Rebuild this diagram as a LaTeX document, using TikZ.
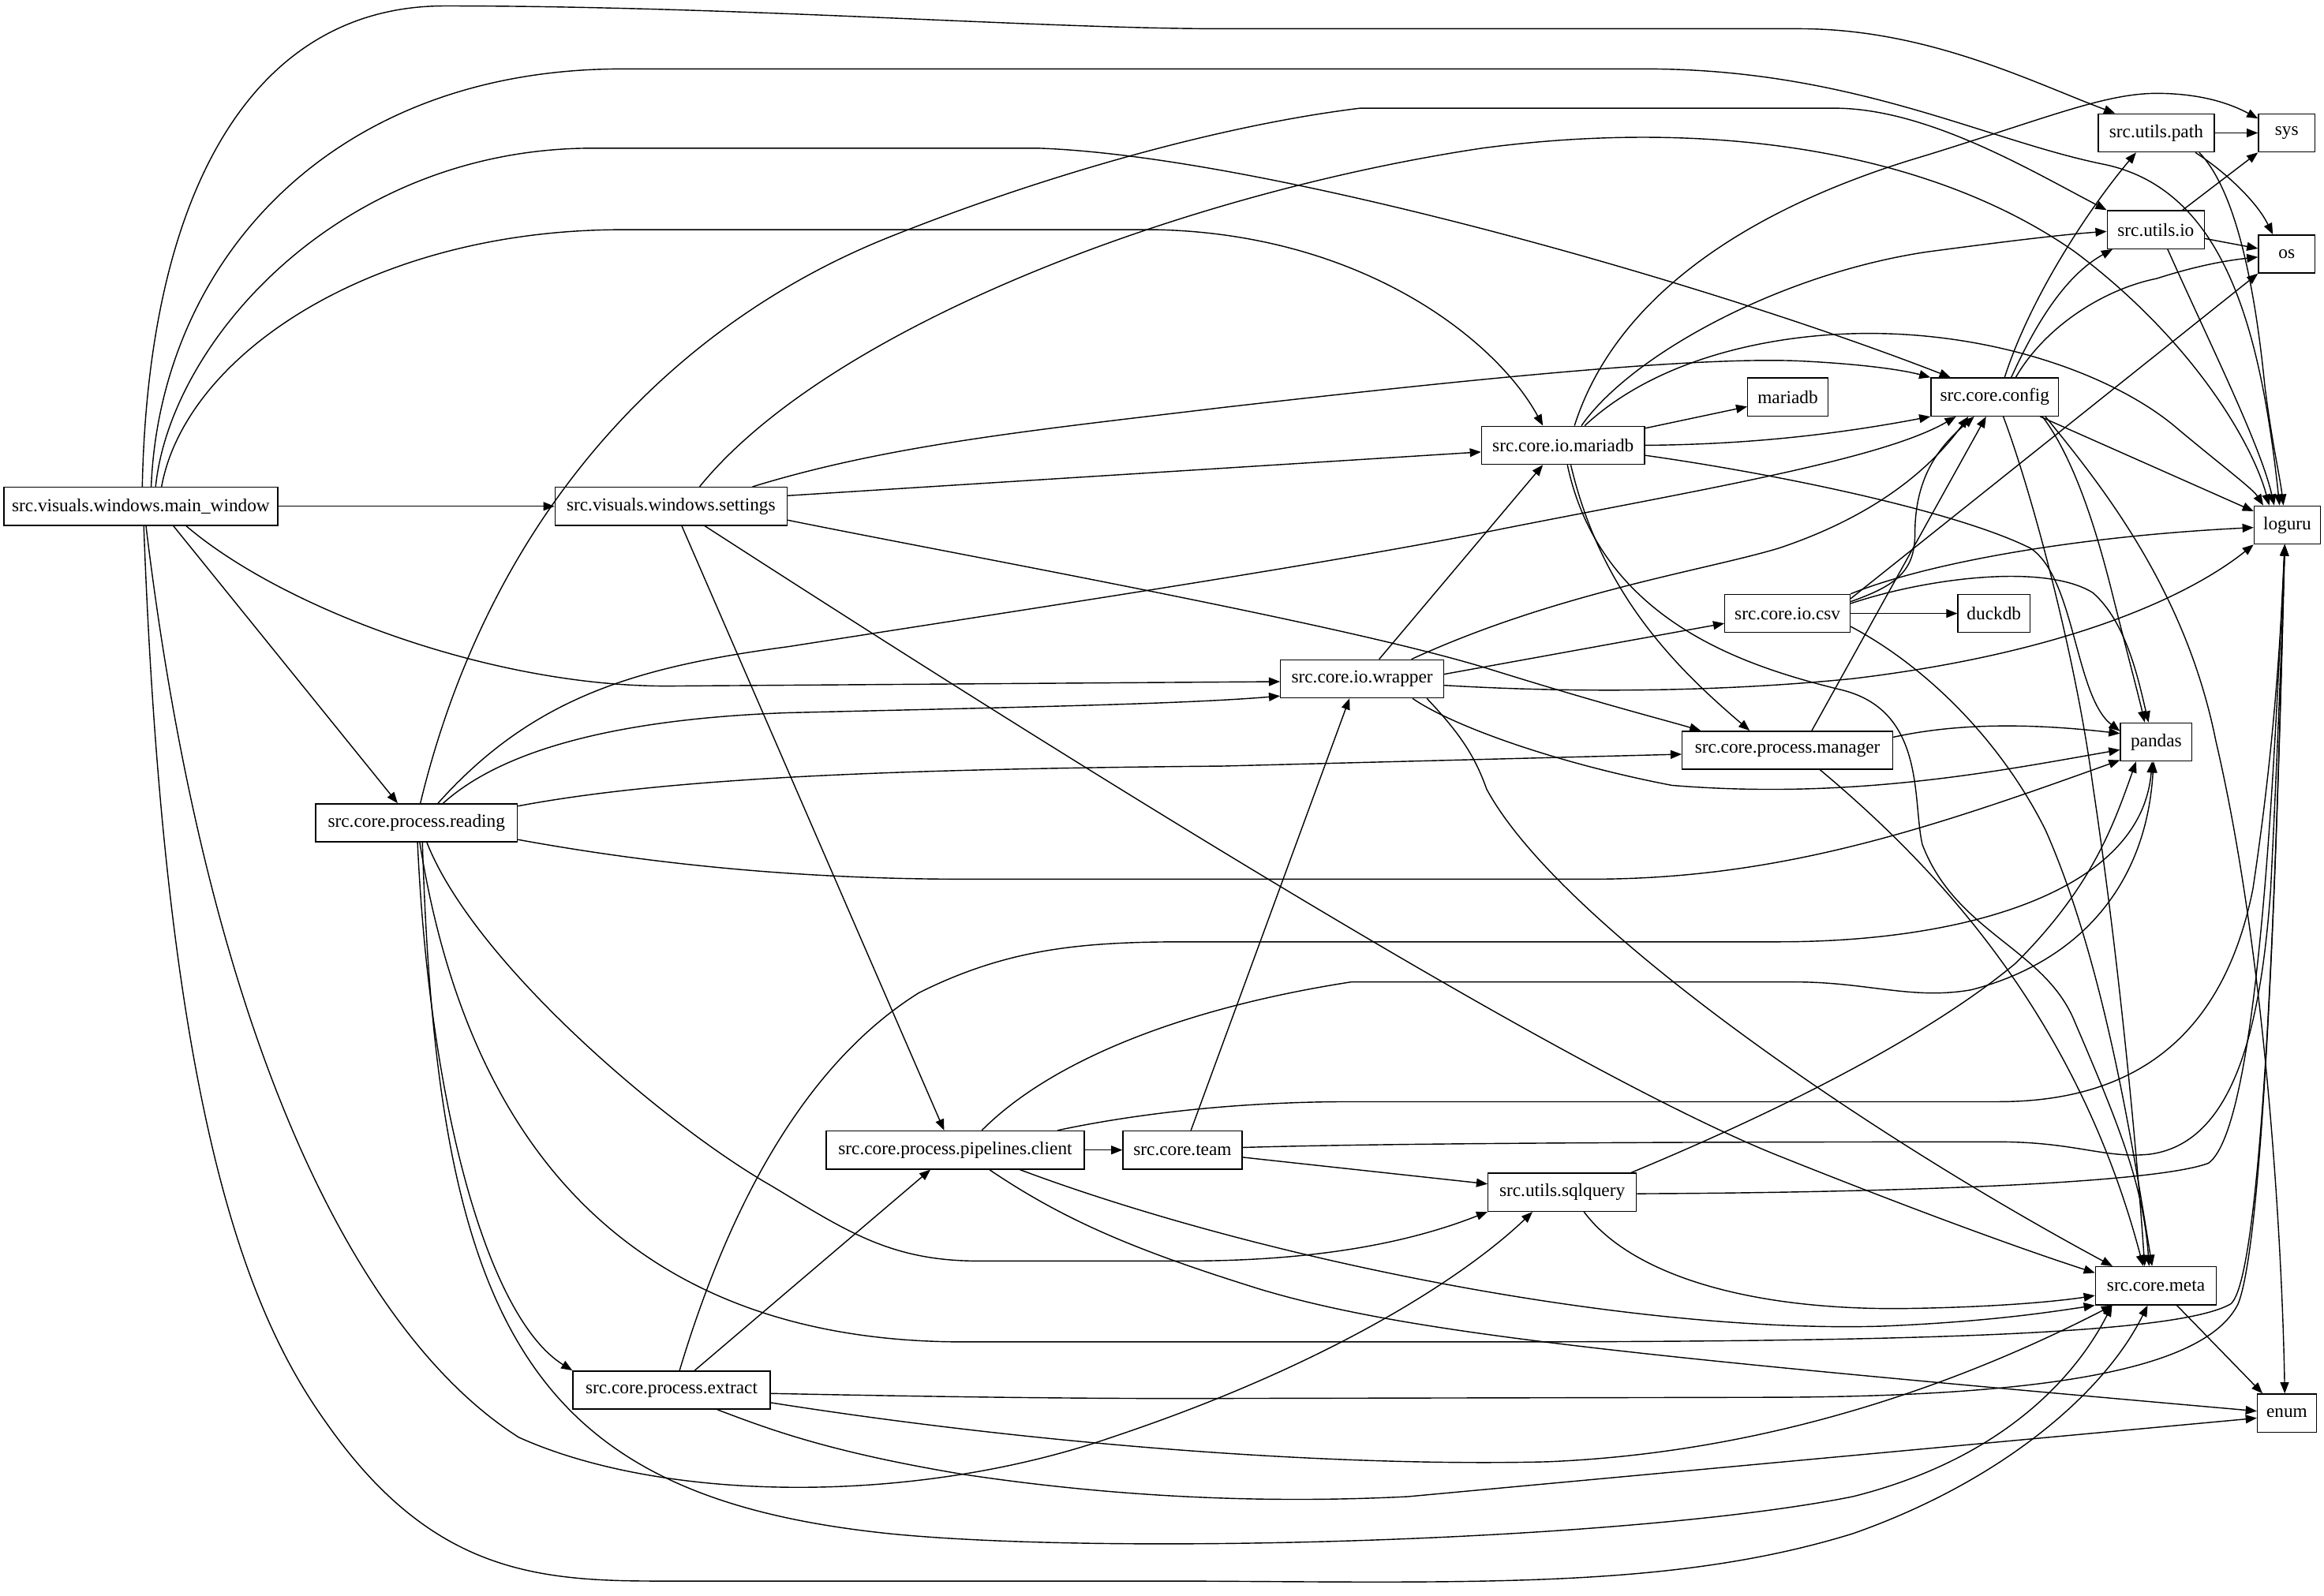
\documentclass[tikz,border=0pt]{standalone}
\usepackage{fontspec}
\newfontfamily\gvfont{Liberation Serif}
\usetikzlibrary{arrows.meta}
\begin{document}
\begin{tikzpicture}[x=1pt,y=-1pt,
  box/.style={draw, line width=0.75pt, inner sep=0pt, minimum height=25.7pt, font=\gvfont\fontsize{12.4pt}{14pt}\selectfont},
  dep/.style={line width=0.75pt, -{Triangle[length=7.5pt,width=5.8pt]}}]
\fill[white] (0,0) rectangle (1568,1077);
\useasboundingbox (0,0) rectangle (1568,1077);
% nodes
\node[box, minimum width=184.7pt] (MW) at (95,341.7) {src.visuals.windows.main\_window};
\node[box, minimum width=156.5pt] (ST) at (452.75,341.7) {src.visuals.windows.settings};
\node[box, minimum width=136pt] (RD) at (281,555.3) {src.core.process.reading};
\node[box, minimum width=133.1pt] (EX) at (453.1,938.1) {src.core.process.extract};
\node[box, minimum width=174.1pt] (PC) at (644.5,776.1) {src.core.process.pipelines.client};
\node[box, minimum width=80.3pt] (TM) at (797.8,776.1) {src.core.team};
\node[box, minimum width=100pt] (SQ) at (1054,804.6) {src.utils.sqlquery};
\node[box, minimum width=110pt] (WR) at (919,458.1) {src.core.io.wrapper};
\node[box, minimum width=84.5pt] (CS) at (1206,414) {src.core.io.csv};
\node[box, minimum width=48.6pt] (DK) at (1345.3,414) {duckdb};
\node[box, minimum width=142pt] (MG) at (1206,506.3) {src.core.process.manager};
\node[box, minimum width=110pt] (MD) at (1054.6,300.5) {src.core.io.mariadb};
\node[box, minimum width=54pt] (MA) at (1206.2,267.9) {mariadb};
\node[box, minimum width=86pt] (CF) at (1345.8,267.9) {src.core.config};
\node[box, minimum width=78.4pt] (PA) at (1454.8,89.7) {src.utils.path};
\node[box, minimum width=38pt] (SY) at (1542.8,89.7) {sys};
\node[box, minimum width=65.6pt] (IO) at (1454.5,155) {src.utils.io};
\node[box, minimum width=38pt] (OS) at (1542.8,171.4) {os};
\node[box, minimum width=44.7pt] (LG) at (1543.2,354.3) {loguru};
\node[box, minimum width=48.3pt] (PD) at (1454.8,500.7) {pandas};
\node[box, minimum width=81.6pt] (MT) at (1454.6,867.7) {src.core.meta};
\node[box, minimum width=39.8pt] (EN) at (1542.9,953.6) {enum};
% main_window
\draw[dep] (MW.east) -- (ST.west);
\draw[dep] (117,0 |- MW.south) -- (268.3,0 |- RD.north);
\draw[dep] (125.6,0 |- MW.south) .. controls (190,410) and (330,463) .. (450,463) -- (WR.west |- 0,460);
\draw[dep] (96,0 |- MW.north) .. controls (100,130) and (170,4) .. (300,4) .. controls (500,4) and (700,19.4) .. (825,19.4) -- (1214,19.4) .. controls (1300,19.4) and (1370,55) .. (1427,0 |- PA.north);
\draw[dep] (102,0 |- MW.north) .. controls (108,180) and (220,46.5) .. (420,46.5) -- (1110,46.5) .. controls (1250,46.5) and (1340,95) .. (1420,111) .. controls (1500,128) and (1525,220) .. (1538,0 |- LG.north);
\draw[dep] (105,0 |- MW.north) .. controls (115,230) and (230,100) .. (400,100) -- (700,100) .. controls (850,105) and (1150,190) .. (1316,0 |- CF.north);
\draw[dep] (109,0 |- MW.north) .. controls (125,240) and (250,155) .. (420,155) -- (780,155) .. controls (920,158) and (1010,230) .. (1041,0 |- MD.north);
\draw[dep] (97,0 |- MW.south) .. controls (112,760) and (170,890) .. (220,960) .. controls (290,1060) and (360,1067) .. (443,1067) -- (800,1067) .. controls (1000,1068) and (1130,1072) .. (1250,1035) .. controls (1350,1000) and (1420,940) .. (1449,0 |- MT.south);
\draw[dep] (98.5,0 |- MW.south) .. controls (140,700) and (240,900) .. (350,970) .. controls (450,1015) and (620,1015) .. (750,970) .. controls (900,920) and (990,860) .. (1034,0 |- SQ.south);
% settings
\draw[dep] (472,0 |- ST.north) .. controls (560,220) and (800,130) .. (1000,100) .. controls (1150,80) and (1300,100) .. (1400,170) .. controls (1480,230) and (1520,300) .. (1531,0 |- LG.north);
\draw[dep] (507.7,0 |- ST.north) .. controls (600,300) and (700,290) .. (825,275) .. controls (1000,255) and (1150,240) .. (1218,243.8) .. controls (1260,246) and (1285,250) .. (CF.north west);
\draw[dep] (ST.east |- 0,334.5) -- (MD.west |- 0,305);
\draw[dep] (ST.east |- 0,351) .. controls (650,375) and (900,420) .. (1000,450) .. controls (1080,475) and (1120,485) .. (1147.5,0 |- MG.north);
\draw[dep] (460,0 |- ST.south) -- (637,0 |- PC.north);
\draw[dep] (475.5,0 |- ST.south) .. controls (700,500) and (1050,720) .. (1200,780) .. controls (1300,820) and (1370,845) .. (MT.west |- 0,859);
% reading
\draw[dep] (283.6,0 |- RD.north) .. controls (330,350) and (450,220) .. (600,160) .. controls (700,120) and (820,85) .. (917.7,73) -- (1237.5,73) .. controls (1300,73) and (1370,115) .. (IO.north west);
\draw[dep] (295.5,0 |- RD.north) .. controls (360,470) and (430,450) .. (532.5,436.3) .. controls (700,410) and (900,380) .. (1015,356.6) .. controls (1150,330) and (1270,310) .. (1319.7,0 |- CF.south);
\draw[dep] (299,0 |- RD.north) .. controls (340,505) and (420,485) .. (532,481) .. controls (700,477) and (800,475) .. (WR.west |- 0,469.7);
\draw[dep] (RD.east |- 0,544) .. controls (450,525) and (600,519) .. (825,517) -- (MG.west |- 0,509);
\draw[dep] (RD.east |- 0,566.6) .. controls (450,585) and (550,593.3) .. (650,593.3) -- (1073.5,593.3) .. controls (1200,593.3) and (1300,560) .. (PD.west |- 0,513);
\draw[dep] (288,0 |- RD.south) .. controls (320,650) and (450,760) .. (520,800) .. controls (570,830) and (600,851) .. (660,851) -- (800,851) .. controls (900,851) and (960,835) .. (SQ.south west);
\draw[dep] (281.7,0 |- RD.south) .. controls (290,750) and (330,890) .. (EX.north west);
\draw[dep] (283.2,0 |- RD.south) .. controls (320,800) and (450,905.6) .. (650,905.6) -- (1000,905.6) .. controls (1300,905.6) and (1470,900) .. (1505,880) .. controls (1530,860) and (1538,500) .. (1541.5,0 |- LG.south);
\draw[dep] (285,0 |- RD.south) .. controls (295,900) and (360,1010) .. (600,1035) .. controls (750,1050) and (1100,1040) .. (1250,1010) .. controls (1350,985) and (1400,930) .. (1425,0 |- MT.south);
% extract
\draw[dep] (458.5,0 |- EX.north) .. controls (490,820) and (540,720) .. (620,670) .. controls (680,640) and (730,635.6) .. (800,635.6) -- (1200,635.6) .. controls (1330,635.6) and (1445,600) .. (1452,0 |- PD.south);
\draw[dep] (468.7,0 |- EX.north) -- (627.8,0 |- PC.south);
\draw[dep] (EX.east |- 0,940.4) .. controls (600,942) and (700,943.8) .. (800,943.8) -- (1200,943) .. controls (1400,942) and (1490,920) .. (1510,880) .. controls (1530,830) and (1538,500) .. (1541.5,0 |- LG.south);
\draw[dep] (EX.east |- 0,946.6) .. controls (700,975) and (900,990) .. (1044,986.5) .. controls (1200,980) and (1330,930) .. (1425.3,0 |- MT.south);
\draw[dep] (484,0 |- EX.south) .. controls (520,965) and (560,980) .. (650,995) .. controls (750,1010) and (850,1015) .. (950,1010) -- (EN.west |- 0,957);
% pipelines.client
\draw[dep] (PC.east) -- (TM.west);
\draw[dep] (662.4,0 |- PC.north) .. controls (710,715) and (800,680) .. (911.6,662.7) -- (1211,662.7) .. controls (1260,662.7) and (1290,675) .. (1330,668) .. controls (1400,650) and (1448,600) .. (1453,0 |- PD.south);
\draw[dep] (713.4,0 |- PC.north) .. controls (750,755) and (820,743.5) .. (911.6,743.5) -- (1348.3,743.5) .. controls (1440,743.5) and (1500,700) .. (1520,600) .. controls (1532,520) and (1538,450) .. (1541.5,0 |- LG.south);
\draw[dep] (688,0 |- PC.south) .. controls (850,850) and (1100,900) .. (1270,895) .. controls (1340,892) and (1380,886) .. (MT.south west);
\draw[dep] (667.5,0 |- PC.south) .. controls (720,825) and (770,845) .. (850,870) .. controls (950,900) and (1100,915) .. (EN.west |- 0,952.3);
% team
\draw[dep] (803.5,0 |- TM.north) -- (910.5,0 |- WR.south);
\draw[dep] (TM.east |- 0,781) -- (SQ.west |- 0,799);
\draw[dep] (TM.east |- 0,774.4) .. controls (950,771) and (1200,770.6) .. (1348.3,770.6) .. controls (1400,770.6) and (1420,782) .. (1450,779) .. controls (1505,772) and (1525,700) .. (1532,600) .. controls (1537,500) and (1540,420) .. (1541.5,0 |- LG.south);
% sqlquery
\draw[dep] (1100.5,0 |- SQ.north) .. controls (1200,750) and (1300,700) .. (1360,650) .. controls (1410,600) and (1425,560) .. (1441.2,0 |- PD.south);
\draw[dep] (SQ.east |- 0,805.6) .. controls (1250,805) and (1450,800) .. (1490,785) .. controls (1525,760) and (1535,500) .. (1541.5,0 |- LG.south);
\draw[dep] (1068.7,0 |- SQ.south) .. controls (1100,860) and (1180,885) .. (1289.5,883) .. controls (1350,882) and (1390,878) .. (MT.west |- 0,874.3);
% meta
\draw[dep] (1468.7,0 |- MT.south) -- (1526.5,0 |- EN.north);
% config
\draw[dep] (1352.5,0 |- CF.north) .. controls (1370,200) and (1410,140) .. (1441.2,0 |- PA.south);
\draw[dep] (1357,0 |- CF.north) .. controls (1375,215) and (1395,185) .. (1425.3,0 |- IO.south);
\draw[dep] (1360,0 |- CF.north) .. controls (1380,220) and (1420,195) .. (1455,188) .. controls (1480,180) and (1500,176) .. (OS.west |- 0,173.5);
\draw[dep] (1376.5,0 |- CF.south) -- (LG.west |- 0,345);
\draw[dep] (1378,0 |- CF.south) .. controls (1400,310) and (1415,360) .. (1425,400) .. controls (1435,440) and (1443,470) .. (1447,0 |- PD.north);
\draw[dep] (1351.6,0 |- CF.south) .. controls (1370,330) and (1400,440) .. (1412,530) .. controls (1430,650) and (1442,780) .. (1447,0 |- MT.north);
\draw[dep] (1380,0 |- CF.south) .. controls (1420,330) and (1475,400) .. (1495,500) .. controls (1530,650) and (1540,850) .. (1541.5,0 |- EN.north);
% io.mariadb
\draw[dep] (MD.east |- 0,289) -- (MA.west |- 0,274.4);
\draw[dep] (MD.east |- 0,300.5) .. controls (1180,300) and (1240,293) .. (CF.south west);
\draw[dep] (1067,0 |- MD.north) .. controls (1100,240) and (1200,185) .. (1300,170) .. controls (1360,162) and (1395,158) .. (IO.west |- 0,156.2);
\draw[dep] (1062.3,0 |- MD.north) .. controls (1090,200) and (1180,140) .. (1299,105) .. controls (1380,80) and (1420,63) .. (1455,63) .. controls (1485,63) and (1505,70) .. (SY.west |- 0,80);
\draw[dep] (1069.2,0 |- MD.north) .. controls (1120,240) and (1200,225) .. (1261,225) .. controls (1350,225) and (1430,255) .. (1470,290) .. controls (1500,315) and (1520,330) .. (1527,0 |- LG.north);
\draw[dep] (MD.east |- 0,307.3) .. controls (1200,320) and (1320,345) .. (1370,370) .. controls (1400,390) and (1400,470) .. (PD.west |- 0,493.4);
\draw[dep] (1059.8,0 |- MD.south) .. controls (1080,400) and (1130,450) .. (1180.5,0 |- MG.north);
\draw[dep] (1057.5,0 |- MD.south) .. controls (1080,420) and (1180,450) .. (1240,465) .. controls (1300,478) and (1290,540) .. (1297,570) .. controls (1320,630) and (1380,640) .. (1400,690) .. controls (1430,760) and (1446,800) .. (1450,0 |- MT.north);
% wrapper
\draw[dep] (930.5,0 |- WR.north) -- (1041,0 |- MD.south);
\draw[dep] (952.3,0 |- WR.north) .. controls (1050,400) and (1150,385) .. (1200,370) .. controls (1260,350) and (1300,320) .. (1328,0 |- CF.south);
\draw[dep] (WR.east |- 0,455) -- (CS.west |- 0,420.7);
\draw[dep] (WR.east |- 0,462.5) .. controls (1050,467) and (1150,468) .. (1250,458) .. controls (1400,440) and (1480,400) .. (LG.south west);
\draw[dep] (953,0 |- WR.south) .. controls (980,490) and (1050,515) .. (1128,530) .. controls (1250,540) and (1350,520) .. (PD.west |- 0,506);
\draw[dep] (962.7,0 |- WR.south) .. controls (985,495) and (995,510) .. (1003,532.5) .. controls (1050,620) and (1250,760) .. (1425.3,0 |- MT.north);
% csv
\draw[dep] (CS.east) -- (DK.west);
\draw[dep] (CS.east |- 0,406) .. controls (1280,395) and (1292,385) .. (1292,360) .. controls (1292,320) and (1310,300) .. (1332,0 |- CF.south);
\draw[dep] (CS.east |- 0,404) -- (OS.south west);
\draw[dep] (CS.north east) .. controls (1300,380) and (1400,362) .. (LG.west |- 0,356);
\draw[dep] (CS.east |- 0,407.3) .. controls (1300,390) and (1380,380) .. (1412,400) .. controls (1435,420) and (1443,460) .. (1449.6,0 |- PD.north);
\draw[dep] (CS.east |- 0,422.8) .. controls (1300,450) and (1350,500) .. (1380,560) .. controls (1420,650) and (1440,780) .. (1452,0 |- MT.north);
% manager
\draw[dep] (1222.4,0 |- MG.north) -- (1340,0 |- CF.south);
\draw[dep] (MG.east |- 0,497.5) .. controls (1320,488) and (1370,488) .. (PD.west |- 0,495);
\draw[dep] (1228,0 |- MG.south) .. controls (1300,580) and (1400,680) .. (1446,0 |- MT.north);
% utils.path / utils.io
\draw[dep] (PA.east) -- (SY.west);
\draw[dep] (1481.2,0 |- PA.south) .. controls (1500,115) and (1522,135) .. (1533.5,0 |- OS.north);
\draw[dep] (1483.8,0 |- PA.south) .. controls (1510,130) and (1522,200) .. (1528,260) .. controls (1533,300) and (1538,320) .. (1540.6,0 |- LG.north);
\draw[dep] (1472.6,0 |- IO.north) -- (SY.south west);
\draw[dep] (IO.east |- 0,161) -- (OS.west |- 0,167.7);
\draw[dep] (1462.5,0 |- IO.south) .. controls (1490,230) and (1525,300) .. (1534.4,0 |- LG.north);
\end{tikzpicture}
\end{document}
